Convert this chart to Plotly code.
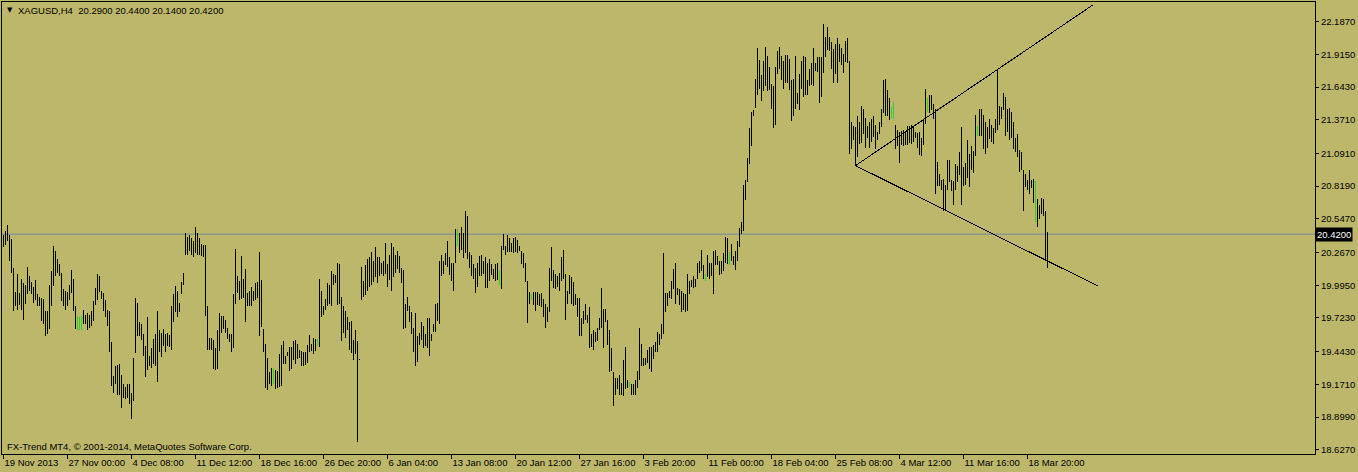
import plotly.graph_objects as go

# ---------------- data ----------------
symbol = "XAGUSD,H4"
last_ohlc = [20.29, 20.44, 20.14, 20.42]

highs = [
    20.41, 20.45, 20.50, 20.41, 20.38, 20.14, 19.94, 20.09, 19.93, 20.05,
    20.01, 20.00, 20.15, 20.07, 20.02, 19.98, 20.04, 19.92, 19.90, 19.89,
    19.88, 19.78, 19.78, 20.00, 20.11, 20.32, 20.28, 20.21, 20.17, 20.10,
    19.96, 19.95, 19.94, 20.00, 20.12, 20.05, 19.82, 19.74, 19.73, 19.74,
    19.79, 19.75, 19.76, 19.75, 19.78, 19.86, 19.97, 20.09, 20.07, 19.95,
    19.93, 19.87, 19.79, 19.78, 19.52, 19.24, 19.32, 19.33, 19.34, 19.25,
    19.17, 19.15, 19.17, 19.17, 19.10, 19.39, 19.89, 19.85, 19.69, 19.67,
    19.59, 19.49, 19.73, 19.41, 19.47, 19.55, 19.59, 19.78, 19.62, 19.60,
    19.63, 19.59, 19.60, 19.58, 19.82, 19.92, 19.99, 19.95, 19.85, 20.02,
    20.10, 20.43, 20.40, 20.41, 20.39, 20.36, 20.48, 20.43, 20.39, 20.34,
    20.33, 20.33, 19.82, 19.56, 19.56, 19.54,
    19.47, 19.62, 19.76, 19.74, 19.74, 19.71, 19.64, 19.59, 19.59, 19.92,
    20.30, 20.07, 20.03, 20.24, 20.05, 20.13, 19.93, 19.95, 19.98, 19.95,
    20.01, 20.02, 20.27, 20.04, 19.63, 19.51, 19.39, 19.27, 19.31, 19.31,
    19.29, 19.28, 19.42, 19.50, 19.53, 19.41, 19.44, 19.48, 19.48, 19.53,
    19.54, 19.51, 19.46, 19.45, 19.44, 19.44, 19.50, 19.58, 19.51, 19.56,
    19.55, 19.55, 20.05, 19.95, 19.82, 19.88, 20.01, 20.00, 20.11, 20.09,
    20.08, 20.18, 20.17, 19.90, 19.82, 19.78, 19.73, 19.69, 19.70, 19.54,
    19.62, 19.53, 19.38, 20.15, 20.03, 20.16, 20.21, 20.23, 20.27, 20.20,
    20.31, 20.23, 20.23, 20.18, 20.20, 20.35, 20.17, 20.25, 20.35, 20.31,
    20.25, 20.28, 20.24, 20.14, 20.12, 19.84, 19.90, 19.82, 19.77, 19.64,
    19.76, 19.57, 19.60, 19.69, 19.66,
    19.59, 19.72, 19.72, 19.59, 19.67, 19.84, 19.85, 20.20, 20.25, 20.20,
    20.26, 20.36, 20.23, 20.18, 20.18, 20.46, 20.46, 20.43, 20.48, 20.43,
    20.61, 20.57, 20.27, 20.25, 20.17, 20.14, 20.18, 20.24, 20.25, 20.20,
    20.23, 20.18, 20.21, 20.17, 20.13, 20.17, 20.18, 20.12, 20.32, 20.42,
    20.32, 20.41, 20.39, 20.35, 20.39, 20.40, 20.37, 20.32, 20.28, 20.26,
    20.18, 20.03, 19.94, 19.92, 19.94, 19.94, 19.94, 19.92, 19.93, 19.88,
    19.84, 19.81, 20.14, 20.31, 20.12, 20.09, 20.07, 20.10, 20.23, 20.29,
    20.09, 19.95, 20.08, 20.06, 20.02, 19.92, 19.89, 19.89, 19.72, 19.78,
    19.84, 19.75, 19.81, 19.59, 19.62, 19.61, 19.64, 19.72, 19.97, 19.80,
    19.80, 19.71, 19.62, 19.47, 19.27, 19.22, 19.22, 19.25, 19.18, 19.37,
    19.48, 19.21, 19.19, 19.17, 19.17, 19.21, 19.28, 19.64,
    19.51, 19.39, 19.39, 19.46, 19.48, 19.48, 19.50, 19.52, 19.61, 19.59,
    19.67, 20.26, 19.93, 19.93, 19.95, 20.03, 20.13, 20.18, 19.97, 19.96,
    19.95, 19.93, 19.92, 20.09, 20.03, 20.04, 20.07, 20.05, 20.18, 20.20,
    20.29, 20.16, 20.09, 20.25, 20.18, 20.18, 20.28, 20.29, 20.24, 20.20,
    20.20, 20.26, 20.40, 20.39, 20.27, 20.34, 20.24, 20.28, 20.36, 20.47,
    20.52, 20.83, 20.87, 21.05, 21.30, 21.44, 21.45, 21.71, 21.97, 21.87,
    21.74, 21.86, 21.98, 21.90, 21.81, 21.67, 21.65, 21.81, 21.94, 21.98,
    21.90, 21.86, 21.91, 21.91, 21.88, 21.70, 21.71, 21.90, 21.59, 21.75,
    21.86, 21.90, 21.89, 21.70, 21.79, 21.84, 21.97, 21.84, 21.89, 21.89,
    21.89, 22.17, 22.06, 22.14, 22.06, 22.02, 21.96, 22.00, 22.05, 22.00,
    21.97, 21.92, 22.03, 22.05, 21.86,
    21.35, 21.32, 21.31, 21.40, 21.35, 21.49, 21.46, 21.39, 21.32, 21.35,
    21.38, 21.40, 21.33, 21.27, 21.35, 21.46, 21.70, 21.71, 21.62, 21.55,
    21.48, 21.52, 21.33, 21.29, 21.27, 21.28, 21.29, 21.28, 21.32, 21.32,
    21.33, 21.31, 21.27, 21.26, 21.27, 21.22, 21.38, 21.63, 21.55, 21.58,
    21.58, 21.50, 21.46, 21.02, 20.92, 20.87, 20.88, 20.83, 21.04, 21.04,
    20.87, 20.86, 21.00, 20.99, 21.10, 21.31, 20.98, 21.01, 21.20, 21.09,
    21.15, 21.11, 21.41, 21.32, 21.46, 21.46, 21.41, 21.35, 21.31, 21.38,
    21.33, 21.30, 21.38, 21.79, 21.49, 21.48, 21.59, 21.56, 21.46, 21.47,
    21.44, 21.35, 21.22, 21.25, 21.12, 21.10, 20.95, 20.92, 20.87, 20.95,
    20.87, 20.88, 20.86, 20.71, 20.66, 20.72, 20.71, 20.61, 20.44,
]

lows = [
    20.31, 20.33, 20.36, 20.20, 20.10, 19.78, 19.82, 19.79, 19.83, 19.79,
    19.71, 19.84, 19.92, 19.95, 19.92, 19.85, 19.87, 19.82, 19.82, 19.70,
    19.67, 19.57, 19.59, 19.63, 19.82, 19.99, 20.07, 20.10, 20.07, 19.86,
    19.82, 19.79, 19.82, 19.87, 19.93, 19.78, 19.63, 19.62, 19.62, 19.62,
    19.67, 19.67, 19.62, 19.64, 19.66, 19.70, 19.83, 19.87, 19.94, 19.88,
    19.78, 19.73, 19.66, 19.44, 19.16, 19.10, 19.17, 19.08, 19.08, 18.97,
    19.06, 19.05, 19.06, 19.01, 18.88, 19.03, 19.43, 19.57, 19.57, 19.54,
    19.41, 19.23, 19.29, 19.32, 19.31, 19.34, 19.32, 19.19, 19.44, 19.40,
    19.49, 19.44, 19.49, 19.48, 19.46, 19.69, 19.77, 19.73, 19.77, 19.92,
    20.00, 20.25, 20.25, 20.28, 20.25, 20.23, 20.26, 20.25, 20.25, 20.24,
    20.23, 19.74, 19.46, 19.46, 19.46, 19.30,
    19.29, 19.30, 19.45, 19.60, 19.63, 19.60, 19.55, 19.52, 19.44, 19.47,
    19.84, 19.93, 19.87, 19.88, 19.89, 19.69, 19.82, 19.82, 19.82, 19.86,
    19.87, 19.89, 19.57, 19.65, 19.44, 19.14, 19.12, 19.17, 19.16, 19.17,
    19.13, 19.14, 19.15, 19.16, 19.34, 19.34, 19.41, 19.28, 19.30, 19.37,
    19.34, 19.38, 19.39, 19.32, 19.32, 19.33, 19.35, 19.44, 19.45, 19.42,
    19.45, 19.49, 19.48, 19.73, 19.75, 19.79, 19.82, 19.84, 19.82, 20.00,
    20.01, 19.83, 19.84, 19.53, 19.60, 19.56, 19.62, 19.46, 19.43, 19.37,
    19.42, 18.69, 19.37, 19.87, 19.90, 19.91, 19.95, 19.98, 20.00, 20.02,
    20.06, 20.01, 20.07, 20.09, 20.07, 20.09, 19.98, 20.04, 19.95, 20.06,
    20.10, 20.13, 20.10, 20.01, 19.63, 19.64, 19.78, 19.69, 19.59, 19.44,
    19.32, 19.36, 19.50, 19.54, 19.47,
    19.49, 19.47, 19.41, 19.53, 19.61, 19.61, 19.70, 19.67, 20.07, 20.09,
    20.16, 20.15, 20.08, 20.03, 19.95, 20.18, 20.32, 20.26, 20.29, 20.22,
    20.26, 20.21, 20.14, 20.07, 20.05, 19.93, 19.98, 20.07, 20.07, 20.09,
    19.97, 19.97, 20.03, 20.08, 20.05, 20.03, 20.04, 20.00, 19.96, 20.29,
    20.25, 20.27, 20.27, 20.27, 20.26, 20.27, 20.26, 20.28, 20.17, 20.14,
    20.02, 19.68, 19.84, 19.87, 19.83, 19.78, 19.83, 19.82, 19.81, 19.73,
    19.64, 19.69, 19.77, 20.03, 19.97, 19.96, 19.98, 19.95, 20.03, 20.05,
    19.71, 19.84, 19.92, 19.84, 19.82, 19.83, 19.73, 19.57, 19.57, 19.67,
    19.71, 19.68, 19.47, 19.48, 19.46, 19.52, 19.53, 19.62, 19.64, 19.47,
    19.69, 19.50, 19.27, 19.28, 18.99, 19.08, 19.13, 19.08, 19.08, 19.07,
    19.13, 19.14, 19.15, 19.08, 19.08, 19.08, 19.14, 19.21,
    19.32, 19.32, 19.33, 19.35, 19.30, 19.27, 19.38, 19.44, 19.44, 19.50,
    19.55, 19.59, 19.77, 19.82, 19.89, 19.88, 19.96, 19.84, 19.91, 19.83,
    19.77, 19.79, 19.77, 19.78, 19.92, 19.98, 19.97, 19.98, 20.05, 20.10,
    20.11, 20.05, 20.03, 20.06, 20.05, 20.07, 19.92, 20.16, 20.16, 20.08,
    20.09, 20.11, 20.18, 20.17, 20.16, 20.20, 20.16, 20.12, 20.20, 20.31,
    20.42, 20.45, 20.70, 20.85, 21.00, 21.15, 21.40, 21.47, 21.58, 21.63,
    21.53, 21.61, 21.65, 21.61, 21.62, 21.46, 21.30, 21.33, 21.75, 21.79,
    21.70, 21.63, 21.68, 21.68, 21.62, 21.36, 21.40, 21.46, 21.50, 21.45,
    21.63, 21.56, 21.58, 21.58, 21.65, 21.66, 21.65, 21.78, 21.77, 21.51,
    21.56, 21.76, 21.89, 21.95, 21.94, 21.79, 21.68, 21.75, 21.68, 21.85,
    21.83, 21.76, 21.85, 21.84, 21.09,
    21.13, 21.20, 20.99, 21.06, 21.17, 21.18, 21.25, 21.14, 21.22, 21.14,
    21.19, 21.23, 21.13, 21.20, 21.25, 21.31, 21.43, 21.40, 21.40, 21.37,
    21.39, 21.38, 21.13, 21.15, 21.01, 21.16, 21.15, 21.16, 21.16, 21.18,
    21.17, 21.19, 21.22, 21.14, 21.08, 21.07, 21.16, 21.34, 21.44, 21.43,
    21.45, 21.38, 20.75, 20.82, 20.82, 20.79, 20.61, 20.61, 20.79, 20.85,
    20.78, 20.66, 20.79, 20.85, 20.91, 20.66, 20.82, 20.83, 20.89, 20.81,
    20.95, 20.93, 21.07, 21.24, 21.24, 21.24, 21.13, 21.09, 21.14, 21.21,
    21.19, 21.17, 21.26, 21.29, 21.33, 21.38, 21.45, 21.24, 21.27, 21.20,
    21.22, 21.13, 21.10, 21.06, 20.94, 20.95, 20.61, 20.81, 20.79, 20.75,
    20.80, 20.68, 20.52, 20.48, 20.55, 20.59, 20.57, 20.21, 20.14,
]

# bars drawn in the "up" colour (0-based bar numbers)
green_bars = [37, 38, 39, 135, 157, 227, 248, 264, 313, 351, 363,
              444, 445, 462, 487, 516]

date_labels = ["19 Nov 2013", "27 Nov 00:00", "4 Dec 08:00", "11 Dec 12:00",
               "18 Dec 16:00", "26 Dec 20:00", "6 Jan 04:00", "13 Jan 08:00",
               "20 Jan 12:00", "27 Jan 16:00", "3 Feb 20:00", "11 Feb 00:00",
               "18 Feb 04:00", "25 Feb 08:00", "4 Mar 12:00", "11 Mar 16:00",
               "18 Mar 20:00"]
bars_per_label = 32

price_ticks = [18.627, 18.899, 19.171, 19.443, 19.723, 19.995, 20.267,
               20.547, 20.819, 21.091, 21.371, 21.643, 21.915, 22.187]

# hand-drawn trend lines (bar number, price)
trend_upper_x = [426, 545]
trend_upper_y = [20.99, 22.33]
trend_lower_x = [426, 547]
trend_lower_y = [20.99, 19.99]

copyright_text = "FX-Trend MT4, \u00a9 2001-2014, MetaQuotes Software Corp."

# ---------------- figure ----------------
BG = "#BDB76B"
FONT = "Liberation Sans, Arial, sans-serif"


def segments(indices):
    xs, ys = [], []
    for i in indices:
        xs += [i, i, None]
        ys += [lows[i], highs[i], None]
    return xs, ys


green_set = set(green_bars)
black_idx = [i for i in range(len(highs)) if i not in green_set]

fig = go.Figure()
bx, by = segments(black_idx)
fig.add_trace(go.Scatter(x=bx, y=by, mode="lines",
                         line=dict(color="black", width=1),
                         hoverinfo="skip", showlegend=False))
gx, gy = segments(green_bars)
fig.add_trace(go.Scatter(x=gx, y=gy, mode="lines",
                         line=dict(color="#32CD32", width=1),
                         hoverinfo="skip", showlegend=False))

for tx, ty in ((trend_upper_x, trend_upper_y), (trend_lower_x, trend_lower_y)):
    fig.add_trace(go.Scatter(x=tx, y=ty, mode="lines",
                             line=dict(color="black", width=1),
                             hoverinfo="skip", showlegend=False))

last_close = last_ohlc[3]
fig.add_shape(type="line", xref="paper", x0=0, x1=1, yref="y",
              y0=last_close, y1=last_close,
              line=dict(color="#778899", width=1), layer="below")

title_vals = " ".join(f"{v:.4f}" for v in last_ohlc)
fig.add_annotation(xref="paper", yref="paper", x=0, y=1, xanchor="left",
                   yanchor="middle", xshift=3, yshift=-8, showarrow=False,
                   text="\u25BC", font=dict(family="DejaVu Sans", size=7, color="black"))
fig.add_annotation(xref="paper", yref="paper", x=0, y=1, xanchor="left",
                   yanchor="middle", xshift=14, yshift=-8, showarrow=False,
                   text=f"{symbol}&nbsp; {title_vals}",
                   font=dict(family=FONT, size=9.5, color="black"))
fig.add_annotation(xref="paper", yref="paper", x=0, y=0, xanchor="left",
                   yanchor="middle", xshift=3, yshift=8, showarrow=False,
                   text=copyright_text,
                   font=dict(family=FONT, size=9.5, color="black"))
fig.add_annotation(xref="paper", yref="y", x=1, y=last_close, xanchor="left",
                   yanchor="middle", xshift=0, showarrow=False,
                   text=f"{last_close:.4f}", bgcolor="black", borderpad=1,
                   font=dict(family=FONT, size=9.5, color="white"))

fig.update_layout(
    width=1358, height=472, autosize=False,
    margin=dict(l=2, r=43, t=2, b=18, pad=0),
    paper_bgcolor=BG, plot_bgcolor=BG,
    showlegend=False,
    xaxis=dict(range=[-0.75, 655.75], showgrid=False, zeroline=False,
               showline=True, mirror=True, linecolor="black", linewidth=1,
               ticks="outside", ticklen=4, tickcolor="black", tickwidth=1,
               tickvals=[k * bars_per_label for k in range(len(date_labels))],
               ticktext=date_labels, ticklabelposition="outside right",
               tickangle=0, automargin=False,
               tickfont=dict(family=FONT, size=9.5, color="black"),
               fixedrange=True),
    yaxis=dict(range=[18.5912, 22.3509], side="right", showgrid=False,
               zeroline=False, showline=True, mirror=True, linecolor="black",
               linewidth=1, ticks="outside", ticklen=3, tickcolor="black",
               tickvals=price_ticks, ticktext=[f"{v:.4f}" for v in price_ticks],
               automargin=False,
               tickfont=dict(family=FONT, size=9.5, color="black"),
               fixedrange=True),
)

page_fix = (
    "document.body.style.margin='0px';"
    "var s=document.createElement('style');"
    "s.textContent='.scatterlayer path{shape-rendering:crispEdges}';"
    "document.head.appendChild(s);"
)
fig.write_html("out.html", post_script=page_fix,
               config={"displayModeBar": False})
